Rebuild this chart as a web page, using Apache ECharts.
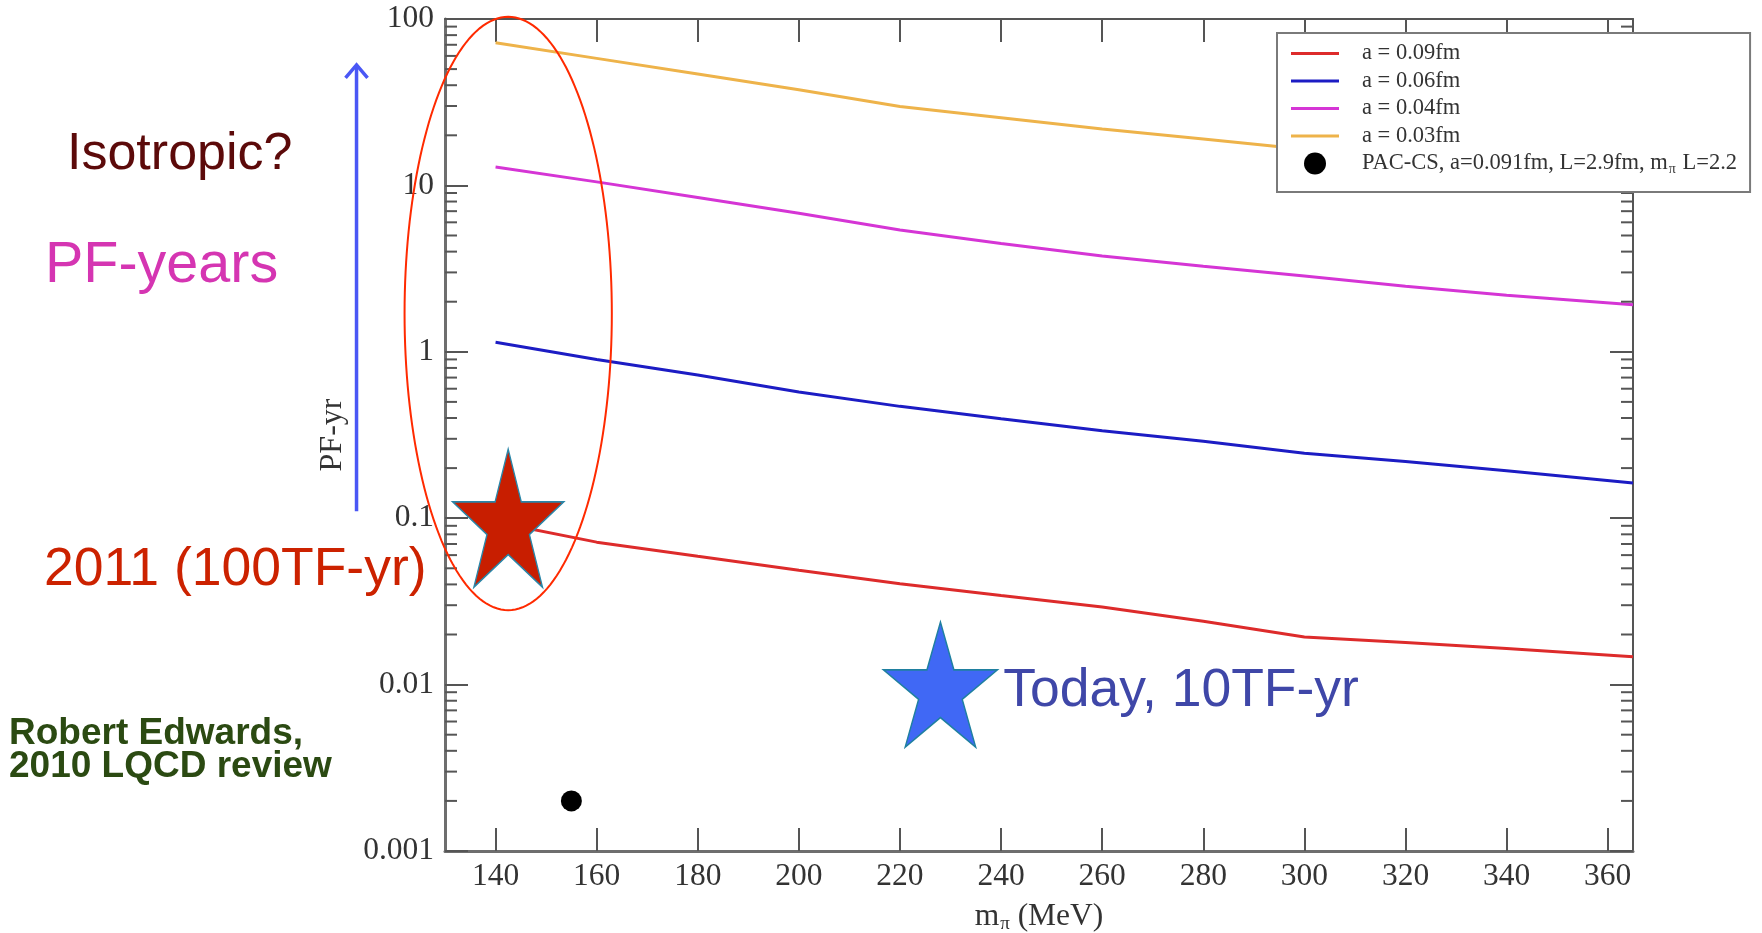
<!DOCTYPE html>
<html>
<head>
<meta charset="utf-8">
<script src="https://cdn.jsdelivr.net/npm/echarts@6/dist/echarts.min.js"></script>
<style>
  html, body { margin: 0; padding: 0; background: #ffffff; }
  #chart { width: 1762px; height: 933px; }
</style>
</head>
<body>
<div id="chart"></div>
<script>
// Pion masses (MeV) at which the cost curves are sampled
const mPi = [140, 160, 180, 200, 220, 240, 260, 280, 300, 320, 340, 365];

// Projected cost in PF-yr for each lattice spacing
const cost009 = [0.095, 0.0718, 0.059, 0.0486, 0.0404, 0.0343, 0.0293, 0.0240, 0.0193, 0.0179, 0.0165, 0.0147];
const cost006 = [1.14, 0.90, 0.726, 0.573, 0.47, 0.396, 0.335, 0.29, 0.246, 0.219, 0.193, 0.163];
const cost004 = [12.9, 10.5, 8.46, 6.8, 5.39, 4.47, 3.77, 3.27, 2.85, 2.48, 2.19, 1.92];
const cost003 = [72, 58, 46.7, 37.6, 29.8, 25.5, 21.8, 19.0, 16.5, 14.5, 12.8, 11.2];

// Existing PACS-CS ensemble: [m_pi, PF-yr]
const pacsPoint = [155, 0.002];

// Compute budgets marked by stars: [m_pi, PF-yr]
const budget2011 = [142.5, 0.1];
const budgetToday = [228, 0.01];

// Highlight ellipse around the physical point: [xLeft, xRight, yTop, yBottom]
const physicalRegion = [122, 163, 103, 0.028];
// Growth arrow beside the axis: [x, yFrom, yTo]
const growthArrow = [112.5, 0.11, 53];

// Axis ticks
const xTicks = [140, 160, 180, 200, 220, 240, 260, 280, 300, 320, 340, 360];
const yTickLabels = ['0.001', '0.01', '0.1', '1', '10', '100'];
const minorMultipliers = [2, 3, 4, 5, 6, 7, 8, 9];
const decades = [0.001, 0.01, 0.1, 1, 10];

const seriesNames = ['a = 0.09fm', 'a = 0.06fm', 'a = 0.04fm', 'a = 0.03fm'];
const seriesColors = ['#dd2b2b', '#1c1cc4', '#d535d5', '#eeb34a'];
const seriesValues = [cost009, cost006, cost004, cost003];

const X_MIN = 130, X_MAX = 365, Y_MIN = 0.001, Y_MAX = 100;
const serif = '"Liberation Serif", "Times New Roman", serif';
const sans = '"Liberation Sans", Arial, sans-serif';

const minorTickValues = [];
decades.forEach(d => minorMultipliers.forEach(m => minorTickValues.push(m * d)));

const starPath = 'path://M50,0 L61.23,34.55 L97.55,34.55 L68.17,55.9 L79.39,90.45 L50,69.1 L20.61,90.45 L31.83,55.9 L2.45,34.55 L38.77,34.55 Z';
// Legend swatch for the curves: a thin bar centred in the item box
const lineIcon = 'path://M0,0 M48,22 M0,9.5 L48,9.5 L48,12.5 L0,12.5 Z';

const chart = echarts.init(document.getElementById('chart'), null, { renderer: 'canvas' });

const lineSeries = seriesNames.map((name, i) => ({
  type: 'line',
  name: name,
  data: mPi.map((x, j) => [x, seriesValues[i][j]]),
  symbol: 'none',
  showSymbol: false,
  lineStyle: { color: seriesColors[i], width: 3 },
  itemStyle: { color: seriesColors[i] },
  z: 2,
  silent: true
}));

const tickStyle = { color: '#555555', width: 2 };

const option = {
  animation: false,
  backgroundColor: '#ffffff',
  grid: {
    left: 445, top: 19, width: 1188, height: 832,
    containLabel: false, outerBoundsMode: 'none'
  },
  xAxis: [
    {
      type: 'value', min: X_MIN, max: X_MAX, position: 'bottom',
      axisLine: { show: true, onZero: false, lineStyle: { color: '#6e6e6e', width: 3 } },
      axisTick: { show: true, inside: true, length: 23, customValues: xTicks, lineStyle: tickStyle },
      axisLabel: { show: true, customValues: xTicks, fontFamily: serif, fontSize: 31.5, color: '#333333', margin: 10 },
      splitLine: { show: false },
      name: '{m|m}{p|π}{m| (MeV)}',
      nameLocation: 'middle', nameGap: 48,
      nameTextStyle: {
        rich: {
          m: { fontFamily: serif, fontSize: 31.5, color: '#333333' },
          p: { fontFamily: serif, fontSize: 19, color: '#333333', padding: [16, 0, 0, 1] }
        }
      }
    },
    {
      type: 'value', min: X_MIN, max: X_MAX, position: 'top',
      axisLine: { show: true, onZero: false, lineStyle: { color: '#555555', width: 2 } },
      axisTick: { show: true, inside: true, length: 23, customValues: xTicks, lineStyle: tickStyle },
      axisLabel: { show: false },
      splitLine: { show: false }
    }
  ],
  yAxis: [
    {
      type: 'log', logBase: 10, min: Y_MIN, max: Y_MAX, position: 'left',
      axisLine: { show: true, onZero: false, lineStyle: { color: '#6e6e6e', width: 3 } },
      axisTick: { show: true, inside: true, length: 23, lineStyle: tickStyle },
      axisLabel: {
        show: true, fontFamily: serif, fontSize: 31.5, color: '#333333', margin: 11,
        formatter: v => yTickLabels[Math.round(Math.log10(v)) + 3]
      },
      splitLine: { show: false },
      name: 'PF-yr', nameLocation: 'middle', nameGap: 96,
      nameTextStyle: { fontFamily: serif, fontSize: 32, color: '#333333' }
    },
    {
      type: 'log', logBase: 10, min: Y_MIN, max: Y_MAX, position: 'right',
      axisLine: { show: true, onZero: false, lineStyle: { color: '#555555', width: 2 } },
      axisTick: { show: true, inside: true, length: 23, lineStyle: tickStyle },
      axisLabel: { show: false },
      splitLine: { show: false }
    }
  ],
  legend: {
    orient: 'vertical', left: 1277, top: 33, z: 10,
    backgroundColor: '#ffffff', borderColor: '#7a7a7a', borderWidth: 2,
    padding: [9, 13, 16, 14],
    itemWidth: 48, itemHeight: 22, itemGap: 4.5,
    selectedMode: false,
    data: [
      { name: seriesNames[0], icon: lineIcon }, { name: seriesNames[1], icon: lineIcon },
      { name: seriesNames[2], icon: lineIcon }, { name: seriesNames[3], icon: lineIcon },
      { name: 'PAC-CS', icon: 'circle' }
    ],
    formatter: name => name === 'PAC-CS'
      ? '{g|}{t|PAC-CS, a=0.091fm, L=2.9fm, m}{s|π}{t| L=2.2}'
      : '{g|}{t|' + name + '}',
    textStyle: {
      fontFamily: serif, fontSize: 22.5, color: '#333333',
      rich: {
        g: { width: 18 },
        t: { fontFamily: serif, fontSize: 22.5, color: '#333333' },
        s: { fontFamily: serif, fontSize: 14, color: '#333333', padding: [11, 1, 0, 1] }
      }
    }
  },
  graphic: [
    { type: 'text', x: 67, y: 155, silent: true,
      style: { text: 'Isotropic?', font: '52px ' + sans, fill: '#5c0a0a', verticalAlign: 'middle' } },
    { type: 'text', x: 45, y: 266, silent: true,
      style: { text: 'PF-years', font: '57.5px ' + sans, fill: '#d535b2', verticalAlign: 'middle' } },
    { type: 'text', x: 44, y: 570, silent: true,
      style: { text: '2011 (100TF-yr)', font: '53.5px ' + sans, fill: '#cc2200', verticalAlign: 'middle' } },
    { type: 'text', x: 9, y: 734, silent: true,
      style: { text: 'Robert Edwards,', font: 'bold 37px ' + sans, fill: '#2b4a12', verticalAlign: 'middle' } },
    { type: 'text', x: 9, y: 767, silent: true,
      style: { text: '2010 LQCD review', font: 'bold 37px ' + sans, fill: '#2b4a12', verticalAlign: 'middle' } }
  ],
  series: [
    ...lineSeries,
    {
      type: 'scatter', name: 'PAC-CS', data: [pacsPoint],
      symbol: 'circle', symbolSize: 21,
      itemStyle: { color: '#000000', opacity: 1 }, z: 3, silent: true
    },
    {
      type: 'scatter', name: 'budget2011', data: [budget2011],
      symbol: starPath, symbolSize: [111, 138],
      itemStyle: { color: '#c81e00', borderColor: '#2a86a8', borderWidth: 1.5, opacity: 1 },
      z: 6, silent: true
    },
    {
      type: 'scatter', name: 'budgetToday', data: [budgetToday],
      symbol: starPath, symbolSize: [114, 125],
      itemStyle: { color: '#4068f5', borderColor: '#1f80a0', borderWidth: 1.5, opacity: 1 },
      label: {
        show: true, position: 'right', distance: 5, offset: [0, 7],
        formatter: 'Today, 10TF-yr', fontFamily: sans, fontSize: 53.5, color: '#3f47a8'
      },
      z: 6, silent: true
    },
    {
      type: 'custom', name: 'minorTicks', silent: true, clip: false, z: 4,
      data: minorTickValues.map(v => [X_MIN, v]),
      renderItem: (params, api) => {
        const v = api.value(1);
        const l = api.coord([X_MIN, v]);
        const r = api.coord([X_MAX, v]);
        return {
          type: 'group',
          children: [
            { type: 'line', shape: { x1: l[0], y1: l[1], x2: l[0] + 12, y2: l[1] }, style: { stroke: '#555555', lineWidth: 2 } },
            { type: 'line', shape: { x1: r[0], y1: r[1], x2: r[0] - 12, y2: r[1] }, style: { stroke: '#555555', lineWidth: 2 } }
          ]
        };
      }
    },
    {
      type: 'custom', name: 'physicalRegion', silent: true, clip: false, z: 7,
      data: [physicalRegion],
      renderItem: (params, api) => {
        const p0 = api.coord([api.value(0), api.value(2)]);
        const p1 = api.coord([api.value(1), api.value(3)]);
        const cx = (p0[0] + p1[0]) / 2, cy = (p0[1] + p1[1]) / 2;
        const rx = Math.abs(p1[0] - p0[0]) / 2, ry = Math.abs(p1[1] - p0[1]) / 2;
        const pts = [];
        for (let i = 0; i < 180; i++) {
          const t = i / 180 * Math.PI * 2;
          pts.push([cx + rx * Math.cos(t), cy + ry * Math.sin(t)]);
        }
        return { type: 'polygon', shape: { points: pts }, style: { fill: 'none', stroke: '#ff2a00', lineWidth: 2 } };
      }
    },
    {
      type: 'custom', name: 'growthArrow', silent: true, clip: false, z: 7,
      data: [growthArrow],
      renderItem: (params, api) => {
        const a = api.coord([api.value(0), api.value(1)]);
        const b = api.coord([api.value(0), api.value(2)]);
        return {
          type: 'group',
          children: [
            { type: 'line', shape: { x1: a[0], y1: a[1], x2: b[0], y2: b[1] + 1 }, style: { stroke: '#4a57f5', lineWidth: 3.5 } },
            { type: 'polyline', shape: { points: [[b[0] - 11, b[1] + 13], [b[0], b[1]], [b[0] + 11, b[1] + 13]] },
              style: { stroke: '#4a57f5', lineWidth: 3.5, fill: 'none' } }
          ]
        };
      }
    }
  ]
};

chart.setOption(option);
</script>
</body>
</html>
